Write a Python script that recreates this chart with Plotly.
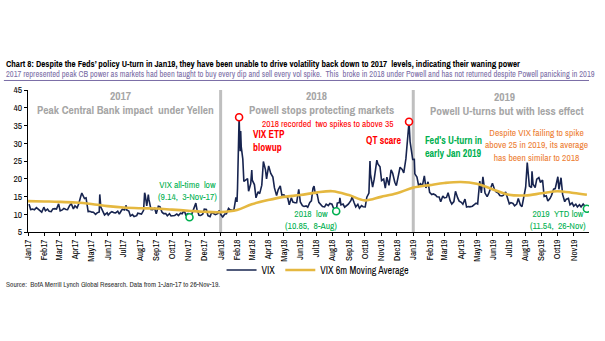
import plotly.graph_objects as go

# VIX closes, 1-Jan-17 to 26-Nov-19
vix_dates = [
    "2017-01-03", "2017-01-06", "2017-01-10", "2017-01-13", "2017-01-17", "2017-01-20", "2017-01-24", "2017-01-27",
    "2017-01-31", "2017-02-03", "2017-02-07", "2017-02-10", "2017-02-14", "2017-02-17", "2017-02-21", "2017-02-24",
    "2017-02-28", "2017-03-03", "2017-03-07", "2017-03-10", "2017-03-14", "2017-03-17", "2017-03-21", "2017-03-24",
    "2017-03-28", "2017-03-31", "2017-04-04", "2017-04-07", "2017-04-11", "2017-04-13", "2017-04-18", "2017-04-21",
    "2017-04-25", "2017-04-28", "2017-05-02", "2017-05-05", "2017-05-09", "2017-05-12", "2017-05-16", "2017-05-17",
    "2017-05-19", "2017-05-23", "2017-05-26", "2017-05-31", "2017-06-02", "2017-06-06", "2017-06-09", "2017-06-13",
    "2017-06-16", "2017-06-20", "2017-06-23", "2017-06-27", "2017-06-29", "2017-07-03", "2017-07-06", "2017-07-07",
    "2017-07-11", "2017-07-14", "2017-07-18", "2017-07-21", "2017-07-26", "2017-07-28", "2017-08-01", "2017-08-04",
    "2017-08-08", "2017-08-10", "2017-08-11", "2017-08-14", "2017-08-17", "2017-08-18", "2017-08-22", "2017-08-25",
    "2017-08-29", "2017-09-01", "2017-09-05", "2017-09-08", "2017-09-12", "2017-09-15", "2017-09-19", "2017-09-22",
    "2017-09-26", "2017-09-29", "2017-10-03", "2017-10-06", "2017-10-10", "2017-10-13", "2017-10-17", "2017-10-20",
    "2017-10-24", "2017-10-27", "2017-10-31", "2017-11-03", "2017-11-07", "2017-11-10", "2017-11-15", "2017-11-17",
    "2017-11-21", "2017-11-24", "2017-11-28", "2017-12-01", "2017-12-05", "2017-12-08", "2017-12-12", "2017-12-15",
    "2017-12-19", "2017-12-22", "2017-12-27", "2017-12-29",
    "2018-01-02", "2018-01-05", "2018-01-09", "2018-01-12", "2018-01-16", "2018-01-19", "2018-01-23", "2018-01-26",
    "2018-01-29", "2018-01-30", "2018-02-01", "2018-02-02", "2018-02-05", "2018-02-06", "2018-02-07", "2018-02-08",
    "2018-02-09", "2018-02-12", "2018-02-14", "2018-02-16", "2018-02-21", "2018-02-23", "2018-02-27", "2018-03-01",
    "2018-03-02", "2018-03-06", "2018-03-09", "2018-03-13", "2018-03-16", "2018-03-20", "2018-03-22", "2018-03-23",
    "2018-03-27", "2018-03-29", "2018-04-02", "2018-04-06", "2018-04-10", "2018-04-13", "2018-04-17", "2018-04-20",
    "2018-04-24", "2018-04-27", "2018-05-01", "2018-05-04", "2018-05-08", "2018-05-11", "2018-05-15", "2018-05-18",
    "2018-05-22", "2018-05-25", "2018-05-29", "2018-06-01", "2018-06-05", "2018-06-08", "2018-06-12", "2018-06-15",
    "2018-06-19", "2018-06-22", "2018-06-25", "2018-06-27", "2018-06-29", "2018-07-03", "2018-07-06", "2018-07-10",
    "2018-07-13", "2018-07-17", "2018-07-20", "2018-07-24", "2018-07-27", "2018-07-31", "2018-08-03", "2018-08-08",
    "2018-08-10", "2018-08-14", "2018-08-15", "2018-08-17", "2018-08-21", "2018-08-24", "2018-08-28", "2018-08-31",
    "2018-09-05", "2018-09-07", "2018-09-11", "2018-09-14", "2018-09-18", "2018-09-21", "2018-09-25", "2018-09-28",
    "2018-10-02", "2018-10-05", "2018-10-09", "2018-10-11", "2018-10-12", "2018-10-16", "2018-10-19", "2018-10-24",
    "2018-10-26", "2018-10-30", "2018-11-02", "2018-11-06", "2018-11-09", "2018-11-12", "2018-11-16", "2018-11-20",
    "2018-11-23", "2018-11-27", "2018-11-30", "2018-12-04", "2018-12-07", "2018-12-11", "2018-12-14", "2018-12-18",
    "2018-12-21", "2018-12-24", "2018-12-26", "2018-12-28", "2018-12-31",
    "2019-01-03", "2019-01-04", "2019-01-08", "2019-01-11", "2019-01-15", "2019-01-18", "2019-01-22", "2019-01-25",
    "2019-01-29", "2019-02-01", "2019-02-05", "2019-02-08", "2019-02-12", "2019-02-15", "2019-02-19", "2019-02-22",
    "2019-02-26", "2019-03-01", "2019-03-05", "2019-03-08", "2019-03-12", "2019-03-15", "2019-03-19", "2019-03-22",
    "2019-03-26", "2019-03-29", "2019-04-02", "2019-04-05", "2019-04-09", "2019-04-12", "2019-04-16", "2019-04-18",
    "2019-04-23", "2019-04-26", "2019-04-30", "2019-05-03", "2019-05-07", "2019-05-10", "2019-05-13", "2019-05-17",
    "2019-05-21", "2019-05-24", "2019-05-29", "2019-05-31", "2019-06-04", "2019-06-07", "2019-06-11", "2019-06-14",
    "2019-06-18", "2019-06-21", "2019-06-25", "2019-06-28", "2019-07-02", "2019-07-05", "2019-07-09", "2019-07-12",
    "2019-07-16", "2019-07-19", "2019-07-23", "2019-07-26", "2019-07-31", "2019-08-02", "2019-08-05", "2019-08-07",
    "2019-08-09", "2019-08-13", "2019-08-14", "2019-08-16", "2019-08-20", "2019-08-23", "2019-08-27", "2019-08-30",
    "2019-09-03", "2019-09-06", "2019-09-10", "2019-09-13", "2019-09-17", "2019-09-20", "2019-09-24", "2019-09-27",
    "2019-10-02", "2019-10-04", "2019-10-08", "2019-10-11", "2019-10-15", "2019-10-18", "2019-10-22", "2019-10-25",
    "2019-10-29", "2019-11-01", "2019-11-05", "2019-11-08", "2019-11-12", "2019-11-15", "2019-11-19", "2019-11-22",
    "2019-11-26",
]
vix_values = [
    12.85, 11.32, 11.45, 11.23, 11.87, 11.54, 11.07, 10.58,
    11.99, 10.97, 11.45, 10.85, 10.74, 11.49, 11.57, 11.47,
    12.92, 10.96, 11.24, 11.66, 11.35, 11.28, 12.47, 12.96,
    11.53, 12.37, 11.79, 12.87, 15.07, 15.96, 14.42, 14.63,
    10.76, 10.82, 10.59, 10.57, 9.96, 10.40, 10.65, 15.59,
    12.04, 10.72, 9.81, 10.41, 9.75, 10.45, 10.70, 10.42,
    10.38, 10.86, 10.02, 11.06, 11.44, 11.22, 12.54, 11.19,
    10.89, 9.51, 9.89, 9.36, 9.60, 10.29, 10.09, 10.03,
    11.11, 16.04, 15.51, 12.33, 15.55, 14.26, 11.35, 11.28,
    11.70, 10.13, 12.23, 12.12, 10.58, 10.17, 10.18, 9.59,
    10.17, 9.51, 9.51, 9.65, 10.08, 9.61, 10.31, 10.15,
    11.07, 9.80, 10.18, 9.14, 9.89, 11.29, 13.13, 11.43,
    9.73, 9.67, 10.03, 11.43, 11.33, 9.58, 9.34, 10.49,
    10.03, 9.90, 10.25, 11.04,
    9.77, 9.22, 10.08, 10.16, 11.66, 11.27, 11.10, 11.08,
    13.84, 14.79, 13.47, 17.31, 37.32, 29.98, 27.73, 33.46,
    29.06, 25.61, 19.26, 19.46, 20.02, 16.49, 18.59, 22.47,
    19.59, 18.36, 14.64, 16.35, 15.80, 18.20, 23.34, 24.87,
    22.50, 19.97, 23.62, 21.49, 20.47, 17.41, 15.25, 16.88,
    18.02, 15.41, 15.49, 14.77, 14.71, 12.65, 14.63, 13.42,
    13.22, 13.22, 17.02, 13.46, 12.40, 12.18, 12.35, 11.98,
    13.35, 13.77, 17.33, 17.91, 16.09, 15.60, 13.37, 12.64,
    12.18, 12.06, 12.86, 12.41, 13.03, 12.83, 11.64, 10.85,
    13.16, 13.31, 14.64, 12.64, 12.86, 11.99, 12.50, 12.86,
    13.91, 14.88, 13.22, 12.07, 12.79, 11.68, 12.42, 12.12,
    12.05, 14.82, 15.95, 24.98, 21.31, 17.62, 19.89, 25.23,
    24.16, 23.35, 19.51, 19.91, 17.36, 20.45, 18.14, 22.48,
    21.52, 19.02, 18.07, 20.74, 23.23, 22.64, 21.63, 25.58,
    30.11, 36.07, 30.41, 28.34, 25.42,
    25.45, 21.38, 20.47, 18.19, 18.60, 17.80, 20.80, 17.42,
    19.13, 16.14, 15.57, 15.72, 15.43, 14.91, 14.88, 13.51,
    15.17, 14.63, 14.74, 16.05, 13.77, 12.88, 13.56, 16.48,
    14.68, 13.71, 13.36, 12.82, 14.28, 12.01, 12.18, 12.09,
    12.28, 12.73, 13.12, 12.87, 19.32, 16.04, 20.55, 15.96,
    14.95, 15.85, 17.90, 18.71, 16.97, 16.30, 15.99, 15.28,
    15.15, 15.40, 16.28, 15.08, 12.93, 13.28, 13.03, 12.39,
    12.86, 14.45, 12.61, 12.16, 16.12, 17.61, 24.59, 19.49,
    17.97, 17.52, 22.10, 18.47, 17.50, 19.87, 20.31, 18.98,
    19.66, 15.00, 15.20, 13.74, 14.44, 15.32, 17.05, 17.22,
    20.56, 17.04, 20.28, 15.58, 13.54, 14.25, 14.46, 12.65,
    13.20, 12.30, 12.83, 12.07, 12.68, 12.05, 12.86, 12.34,
    11.54,
]

# VIX 6-month moving average
ma_dates = [
    "2017-01-01", "2017-02-01", "2017-03-01", "2017-04-01", "2017-05-01", "2017-06-01",
    "2017-07-01", "2017-08-01", "2017-09-01", "2017-10-01", "2017-11-01", "2017-12-01",
    "2018-01-01", "2018-02-01", "2018-03-01", "2018-04-01", "2018-05-01", "2018-06-01",
    "2018-07-01", "2018-08-01", "2018-09-01", "2018-10-01", "2018-11-01", "2018-12-01",
    "2019-01-01", "2019-02-01", "2019-03-01", "2019-04-01", "2019-05-01", "2019-06-01",
    "2019-07-01", "2019-08-01", "2019-09-01", "2019-10-01", "2019-11-01", "2019-11-26",
]
ma_values = [
    13.7, 13.6, 13.5, 13.3, 12.9, 12.3,
    11.9, 11.7, 11.6, 11.3, 11.0, 10.7,
    10.6, 11.2, 12.8, 14.0, 14.9, 15.4,
    16.1, 16.5, 15.4, 13.9, 14.9, 15.9,
    17.5, 18.2, 18.8, 19.1, 18.6, 17.0,
    15.5, 15.3, 15.9, 16.5, 16.0, 15.5,
]

# highlighted points
spike_dates = ["2018-02-05", "2018-12-24"]
low_dates = ["2017-11-03", "2018-08-08", "2019-11-26"]

NARROW = "Archivo Narrow, PT Sans Narrow, Roboto Condensed, sans-serif"
NAVY = "#17244f"
GOLD = "#e5b840"
GREY = "#a6a6a6"
RED = "#ff0000"
GREEN = "#00b050"
ORANGE = "#ed7d31"
PURPLE = "#7b6ea6"

lookup = dict(zip(vix_dates, vix_values))

fig = go.Figure()
fig.add_trace(go.Scatter(x=vix_dates, y=vix_values, mode="lines", name="VIX",
                         line=dict(color=NAVY, width=1.6)))
fig.add_trace(go.Scatter(x=ma_dates, y=ma_values, mode="lines", name="VIX 6m Moving Average",
                         line=dict(color=GOLD, width=2.6, shape="spline")))
fig.add_trace(go.Scatter(x=spike_dates, y=[lookup[d] for d in spike_dates], mode="markers",
                         showlegend=False, hoverinfo="skip",
                         marker=dict(symbol="circle", size=7, color="white",
                                     line=dict(color=RED, width=1.6))))
fig.add_trace(go.Scatter(x=low_dates, y=[lookup[d] for d in low_dates], mode="markers",
                         showlegend=False, hoverinfo="skip",
                         marker=dict(symbol="circle", size=7, color="white",
                                     line=dict(color=GREEN, width=1.6))))

# year separators
for d in ["2018-01-01", "2019-01-01"]:
    fig.add_shape(type="line", x0=d, x1=d, y0=0, y1=1, xref="x", yref="paper",
                  line=dict(color="#bfbfbf", width=3), layer="below")

# rule under the subtitle
fig.add_shape(type="line", x0=-0.043, x1=1.0, y0=1.067, y1=1.067, xref="paper", yref="paper",
              line=dict(color=PURPLE, width=1))


def note(x, y, text, color, size=9.5, bold=False, xanchor="center", xref="x", yref="y"):
    if bold:
        text = "<b>" + text + "</b>"
    fig.add_annotation(x=x, y=y, xref=xref, yref=yref, text=text, showarrow=False,
                       xanchor=xanchor, yanchor="middle", align="left" if xanchor == "left" else "center",
                       font=dict(family=NARROW, size=size, color=color))


# headings
note(-0.043, 1.186, "Chart 8: Despite the Feds’ policy U-turn in Jan19, they have been unable to drive "
     "volatility back down to 2017  levels, indicating their waning power",
     "#000000", size=9, bold=True, xanchor="left", xref="paper", yref="paper")
note(-0.043, 1.111, "2017 represented peak CB power as markets had been taught to buy every dip and sell "
     "every vol spike.  This  broke in 2018 under Powell and has not returned despite Powell panicking in 2019",
     PURPLE, size=8.4, xanchor="left", xref="paper", yref="paper")

# period headers
note("2017-06-25", 43.3, "2017", GREY, size=11.5, bold=True)
note("2017-07-04", 39.4, "Peak Central Bank impact  under Yellen", GREY, size=11.5, bold=True)
note("2018-07-01", 43.3, "2018", GREY, size=11.5, bold=True)
note("2018-07-12", 39.4, "Powell stops protecting markets", GREY, size=11.5, bold=True)
note("2019-06-22", 43.1, "2019", GREY, size=11.5, bold=True)
note("2019-06-27", 39.0, "Powell U-turns but with less effect", GREY, size=11.5, bold=True)

# call-outs
note("2018-07-22", 35.7, "2018 recorded  two spikes to above 35", RED, size=9.3)
note("2018-02-28", 30.6, "VIX ETP<br>blowup", RED, size=10, bold=True, xanchor="left")
note("2018-11-07", 30.9, "QT scare", RED, size=10, bold=True)
note("2019-01-20", 28.9, "Fed's U-turn in<br>early Jan 2019", GREEN, size=10, bold=True, xanchor="left")
note("2019-08-23", 29.5, "Despite VIX failing to spike<br>above 25 in 2019, its average<br>has been similar to 2018",
     ORANGE, size=9.5)
note("2017-10-31", 16.8, "VIX all-time  low<br>(9.14,  3-Nov-17)", GREEN, size=9.5)
note("2018-06-22", 8.6, "2018  low<br>(10.85,  8-Aug)", GREEN, size=9.5)
note("2019-10-03", 8.6, "2019  YTD low<br>(11.54,  26-Nov)", GREEN, size=9.5)

# source line
note(-0.043, -0.368, "Source:  BofA Merrill Lynch Global Research. Data from 1-Jan-17 to 26-Nov-19.",
     "#333333", size=7.4, xanchor="left", xref="paper", yref="paper")

fig.update_layout(
    width=605, height=341,
    margin=dict(l=28, r=16, t=90, b=109),
    paper_bgcolor="white", plot_bgcolor="white",
    font=dict(family=NARROW, size=9, color="#000000"),
    showlegend=True,
    legend=dict(orientation="h", x=0.345, y=-0.165, xanchor="left", yanchor="top",
                font=dict(family=NARROW, size=10, color="#000000"),
                bgcolor="rgba(0,0,0,0)", itemwidth=30, tracegroupgap=0),
    xaxis=dict(
        type="date", range=["2017-01-01", "2019-11-30"],
        dtick="M1", tick0="2017-01-01", tickformat="%b%y", tickangle=-90,
        ticks="outside", ticklen=3, tickcolor="#000000",
        showline=True, linecolor="#000000", linewidth=1,
        showgrid=False, zeroline=False,
        tickfont=dict(family=NARROW, size=9, color="#000000"),
    ),
    yaxis=dict(
        range=[5, 45], dtick=5, tick0=5,
        ticks="outside", ticklen=3, tickcolor="#000000",
        showline=True, linecolor="#000000", linewidth=1,
        showgrid=False, zeroline=False,
        tickfont=dict(family=NARROW, size=9.5, color="#000000"),
    ),
)

fig.write_html("out.html")
